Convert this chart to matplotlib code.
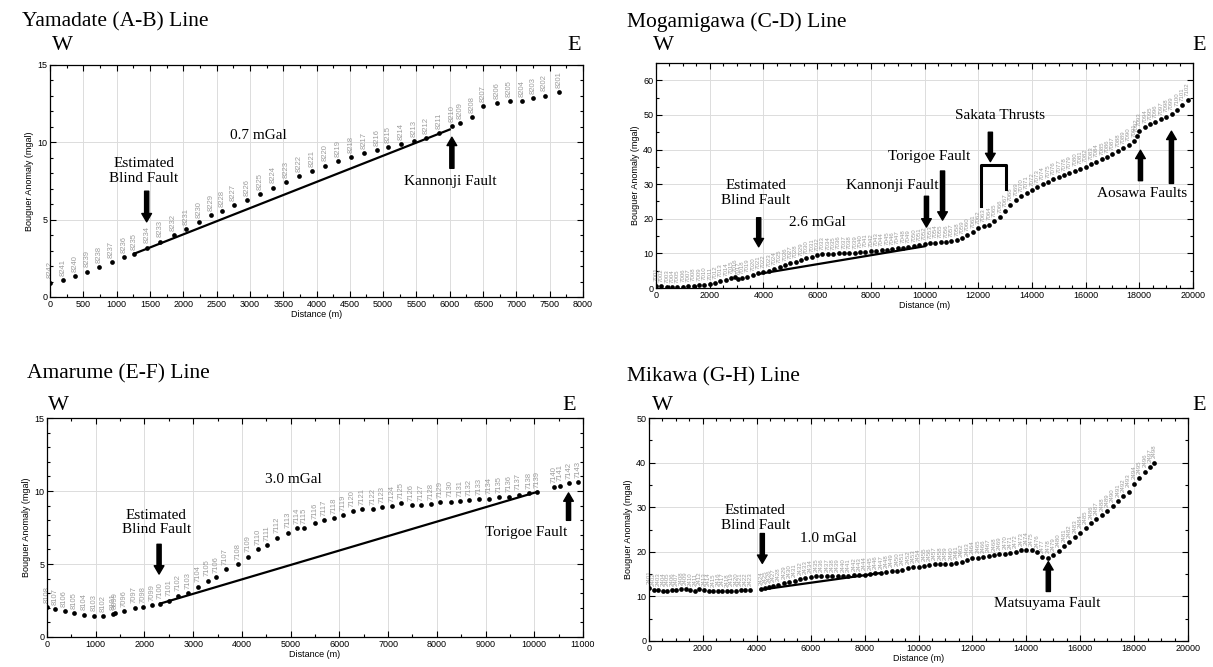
import matplotlib
matplotlib.use('Agg')
import matplotlib.pyplot as plt
from matplotlib.ticker import MultipleLocator

# Figure size in pixels
W, H = 1213, 667

# ---- Yamadate (A-B) line ----
yama_x = [0, 193, 380, 562, 737, 924, 1106, 1264, 1451, 1650, 1855, 2048, 2241, 2422,
          2580, 2756, 2955, 3148, 3347, 3546, 3739, 3932, 4125, 4318, 4517, 4716, 4903,
          5079, 5266, 5459, 5646, 5839, 6032, 6149, 6336, 6506, 6711, 6898, 7091, 7255,
          7424, 7640]
yama_y = [0.93, 1.09, 1.37, 1.64, 1.94, 2.28, 2.58, 2.80, 3.19, 3.58, 3.99, 4.40, 4.86,
          5.31, 5.58, 5.93, 6.27, 6.63, 7.07, 7.43, 7.80, 8.14, 8.50, 8.80, 9.05, 9.28,
          9.48, 9.69, 9.89, 10.08, 10.30, 10.60, 11.03, 11.24, 11.65, 12.35, 12.56,
          12.65, 12.65, 12.86, 13.02, 13.24]
yama_labels = [str(n) for n in range(8242, 8200, -1)]
yama_fit_x = [1264, 6000]
yama_fit_y = [2.80, 10.83]

# ---- Mogamigawa (C-D) line ----
moga_x = [0, 200, 400, 600, 800, 1000, 1200, 1400, 1600, 1800, 2000, 2200, 2400, 2600,
          2800, 2950, 3050, 3200, 3400, 3600, 3800, 4000, 4200, 4400, 4600, 4800, 5000,
          5200, 5400, 5600, 5800, 6000, 6200, 6400, 6600, 6800, 7000, 7200, 7400, 7600,
          7800, 8000, 8200, 8400, 8600, 8800, 9000, 9200, 9400, 9600, 9800, 10000, 10200,
          10400, 10600, 10800, 11000, 11200, 11400, 11600, 11800, 12000, 12200, 12400,
          12600, 12800, 13000, 13200, 13400, 13600, 13800, 14000, 14200, 14400, 14600,
          14800, 15000, 15200, 15400, 15600, 15800, 16000, 16200, 16400, 16600, 16800,
          17000, 17200, 17400, 17600, 17800, 17900, 18000, 18200, 18400, 18600, 18800,
          19000, 19200, 19400, 19600, 19800]
moga_y = [0.7, 0.5, 0.3, 0.3, 0.3, 0.4, 0.5, 0.7, 0.8, 1.0, 1.2, 1.5, 1.9, 2.3, 2.8,
          3.3, 2.5, 2.9, 3.3, 3.8, 4.2, 4.6, 5.0, 5.5, 6.0, 6.6, 7.1, 7.6, 8.1, 8.6, 9.1,
          9.5, 9.7, 9.8, 9.9, 10.0, 10.0, 10.1, 10.2, 10.3, 10.5, 10.6, 10.8, 10.9, 11.1,
          11.3, 11.5, 11.7, 11.9, 12.0, 12.3, 12.6, 13.0, 13.1, 13.2, 13.3, 13.5, 13.9,
          14.4, 15.2, 16.2, 17.3, 17.9, 18.3, 19.3, 20.5, 22.3, 24.0, 25.5, 26.6, 27.5,
          28.3, 29.2, 30.0, 30.7, 31.4, 32.0, 32.6, 33.3, 33.9, 34.5, 35.1, 35.8, 36.5,
          37.2, 37.9, 38.7, 39.5, 40.5, 41.4, 42.5, 44.0, 45.5, 46.5, 47.3, 48.0, 48.8,
          49.5, 50.3, 51.5, 52.8, 54.2]
moga_labels = [str(7001 + i) for i in range(len(moga_x))]
moga_fit_x = [3825, 10000]
moga_fit_y = [4.05, 12.05]

# ---- Amarume (E-F) line ----
ama_x = [0, 168, 361, 561, 762, 962, 1146, 1355, 1390, 1587, 1796, 1980, 2149, 2325,
         2509, 2686, 2886, 3095, 3295, 3472, 3664, 3913, 4129, 4322, 4522, 4723, 4939,
         5132, 5276, 5500, 5685, 5893, 6077, 6270, 6470, 6687, 6879, 7080, 7272, 7481,
         7681, 7873, 8074, 8282, 8483, 8667, 8875, 9076, 9276, 9476, 9677, 9885, 10062,
         10415, 10527, 10719, 10904]
ama_y = [2.04, 1.91, 1.79, 1.61, 1.54, 1.47, 1.43, 1.59, 1.62, 1.79, 2.02, 2.04, 2.16,
         2.29, 2.50, 2.84, 3.02, 3.45, 3.86, 4.13, 4.63, 5.01, 5.51, 6.04, 6.31, 6.81,
         7.15, 7.44, 7.44, 7.78, 7.99, 8.12, 8.37, 8.62, 8.74, 8.78, 8.89, 8.99, 9.17,
         9.05, 9.03, 9.08, 9.26, 9.28, 9.30, 9.35, 9.42, 9.48, 9.58, 9.62, 9.76, 9.87,
         9.94, 10.28, 10.37, 10.53, 10.60]
ama_labels = ['8108', '8107', '8106', '8105', '8104', '8103', '8102', '8101', '8099'] + \
             [str(n) for n in range(7096, 7144)]
ama_fit_x = [2325, 10062]
ama_fit_y = [2.29, 9.94]

# ---- Mikawa (G-H) line ----
mika_x = [0, 170, 340, 510, 680, 850, 1020, 1190, 1360, 1530, 1700, 1870, 2040, 2210,
          2380, 2550, 2720, 2890, 3060, 3230, 3400, 3570, 3750, 4150, 4300, 4450, 4600,
          4800, 5000, 5200, 5400, 5600, 5800, 6000, 6200, 6400, 6600, 6800, 7000, 7200,
          7400, 7600, 7800, 8000, 8200, 8400, 8600, 8800, 9000, 9200, 9400, 9600, 9800,
          10000, 10200, 10400, 10600, 10800, 11000, 11200, 11400, 11600, 11800, 12000,
          12200, 12400, 12600, 12800, 13000, 13200, 13400, 13600, 13800, 14000, 14200,
          14400, 14600, 14800, 15000, 15200, 15400, 15600, 15800, 16000, 16200, 16400,
          16600, 16800, 17000, 17200, 17400, 17600, 17800, 18000, 18200, 18400, 18600,
          18750]
mika_y = [11.8, 11.5, 11.4, 11.3, 11.3, 11.4, 11.5, 11.7, 11.6, 11.4, 11.3, 11.6, 11.4,
          11.3, 11.2, 11.3, 11.3, 11.2, 11.3, 11.3, 11.4, 11.5, 11.5, 11.6, 11.8, 12.0,
          12.3, 12.6, 12.9, 13.2, 13.5, 13.8, 14.2, 14.4, 14.5, 14.5, 14.6, 14.6, 14.6,
          14.6, 14.6, 14.7, 14.8, 14.9, 15.0, 15.2, 15.3, 15.4, 15.6, 15.8, 16.0, 16.3,
          16.5, 16.7, 16.9, 17.1, 17.2, 17.3, 17.3, 17.3, 17.5, 17.8, 18.1, 18.5, 18.7,
          18.8, 19.0, 19.2, 19.4, 19.6, 19.7, 20.0, 20.3, 20.5, 20.3, 19.9, 18.8, 18.7,
          19.3, 20.2, 21.2, 22.2, 23.3, 24.3, 25.4, 26.4, 27.4, 28.3, 29.2, 30.2, 31.3,
          32.4, 33.5, 35.3, 36.6, 38.0, 39.1, 40.0]
mika_labels = [str(2401 + i) for i in range(len(mika_x))]
mika_fit_x = [4150, 8540]
mika_fit_y = [11.5, 15.2]

SERIF = 'Liberation Serif'
SANS = 'Liberation Sans'
GRAY = '#9c9c9c'


def box(l, t, r, b):
    """pixel box -> figure fraction rect"""
    return [l / W, 1 - b / H, (r - l) / W, (b - t) / H]


def ftext(x, y, s, size, ha='left'):
    fig.text(x / W, 1 - y / H, s, fontsize=size, family=SERIF, ha=ha, va='center')


def setup(ax, xmax, xmaj, xmin, ymax, ymaj, ymin):
    ax.set_xlim(0, xmax)
    ax.set_ylim(0, ymax)
    ax.xaxis.set_major_locator(MultipleLocator(xmaj))
    ax.xaxis.set_minor_locator(MultipleLocator(xmin))
    ax.yaxis.set_major_locator(MultipleLocator(ymaj))
    ax.yaxis.set_minor_locator(MultipleLocator(ymin))
    ax.grid(True, which='major', color='#dcdcdc', linewidth=0.7)
    ax.set_axisbelow(True)
    ax.tick_params(which='both', direction='in', top=True, right=True,
                   labelsize=6.5, pad=2, width=0.8)
    ax.tick_params(which='major', length=4)
    ax.tick_params(which='minor', length=2.5)
    for lab in ax.get_xticklabels() + ax.get_yticklabels():
        lab.set_family(SANS)
    for sp in ax.spines.values():
        sp.set_linewidth(0.9)
    ax.set_xlabel('Distance (m)', fontsize=6.5, family=SANS, labelpad=1)
    ax.set_ylabel('Bouguer Anomaly (mgal)', fontsize=6.5, family=SANS, labelpad=2)


def stations(ax, xs, ys, labels, size, off):
    ax.plot(xs, ys, 'o', color='black', markersize=3.4, markeredgewidth=0, zorder=3)
    for x, y, s in zip(xs, ys, labels):
        ax.annotate(s, (x, y), xytext=(0, off), textcoords='offset points',
                    rotation=90, ha='center', va='bottom', fontsize=size,
                    color=GRAY, family=SANS, zorder=2)


def arrow(ax, x, y0, y1):
    ax.annotate('', xy=(x, y1), xytext=(x, y0),
                arrowprops=dict(facecolor='black', edgecolor='black', width=3,
                                headwidth=7, headlength=6, shrink=0))


def note(ax, x, y, s, size=11):
    ax.text(x, y, s, fontsize=size, family=SERIF, ha='center', va='center',
            linespacing=1.15)


fig = plt.figure(figsize=(W / 100, H / 100), dpi=100)

# Panel 1: Yamadate
ax1 = fig.add_axes(box(50, 65, 583, 297))
setup(ax1, 8000, 500, 250, 15, 5, 1)
stations(ax1, yama_x, yama_y, yama_labels, 5.5, 3)
ax1.plot(yama_fit_x, yama_fit_y, color='black', linewidth=1.6, zorder=4)
note(ax1, 3130, 10.44, '0.7 mGal')
note(ax1, 1404, 8.16, 'Estimated\nBlind Fault')
arrow(ax1, 1451, 6.84, 4.86)
note(ax1, 6000, 7.48, 'Kannonji Fault')
arrow(ax1, 6032, 8.32, 10.33)
ftext(22, 22, 'Yamadate (A-B) Line', 15.5)
ftext(62, 46, 'W', 16, 'center')
ftext(574, 46, 'E', 16, 'center')

# Panel 2: Mogamigawa
ax2 = fig.add_axes(box(656, 63, 1193, 288))
setup(ax2, 20000, 2000, 500, 65, 10, 5)
stations(ax2, moga_x, moga_y, moga_labels, 4.4, 3)
ax2.plot(moga_fit_x, moga_fit_y, color='black', linewidth=1.6, zorder=4)
note(ax2, 3723, 27.5, 'Estimated\nBlind Fault')
arrow(ax2, 3825, 20.3, 11.9)
note(ax2, 6015, 19.0, '2.6 mGal')
note(ax2, 8803, 29.7, 'Kannonji Fault')
arrow(ax2, 10073, 26.5, 17.6)
note(ax2, 10190, 38.1, 'Torigoe Fault')
arrow(ax2, 10672, 33.8, 19.6)
note(ax2, 12818, 49.7, 'Sakata Thrusts')
arrow(ax2, 12453, 45.0, 36.5)
ax2.plot([12117, 12117, 13022, 13022], [23.8, 35.5, 35.5, 28.7], color='black',
         linewidth=2.2, zorder=4)
note(ax2, 18102, 27.3, 'Aosawa Faults')
arrow(ax2, 18043, 31.0, 39.8)
arrow(ax2, 19197, 30.2, 45.3)
ftext(627, 22, 'Mogamigawa (C-D) Line', 15.5)
ftext(663, 46, 'W', 16, 'center')
ftext(1199, 46, 'E', 16, 'center')

# Panel 3: Amarume
ax3 = fig.add_axes(box(47, 418, 583, 637))
setup(ax3, 11000, 1000, 500, 15, 5, 1)
stations(ax3, ama_x, ama_y, ama_labels, 5.5, 3)
ax3.plot(ama_fit_x, ama_fit_y, color='black', linewidth=1.6, zorder=4)
note(ax3, 5051, 10.82, '3.0 mGal')
note(ax3, 2245, 7.83, 'Estimated\nBlind Fault')
arrow(ax3, 2300, 6.35, 4.31)
note(ax3, 9840, 7.15, 'Torigoe Fault')
arrow(ax3, 10703, 7.99, 9.87)
ftext(27, 374, 'Amarume (E-F) Line', 15.5)
ftext(58, 406, 'W', 16, 'center')
ftext(569, 406, 'E', 16, 'center')

# Panel 4: Mikawa
ax4 = fig.add_axes(box(649, 418, 1188, 641))
setup(ax4, 20000, 2000, 500, 50, 10, 5)
stations(ax4, mika_x, mika_y, mika_labels, 4.4, 3)
ax4.plot(mika_fit_x, mika_fit_y, color='black', linewidth=1.6, zorder=4)
note(ax4, 3942, 27.6, 'Estimated\nBlind Fault')
arrow(ax4, 4204, 24.1, 17.4)
note(ax4, 6642, 23.0, '1.0 mGal')
note(ax4, 14788, 8.4, 'Matsuyama Fault')
arrow(ax4, 14817, 11.1, 17.8)
ftext(627, 377, 'Mikawa (G-H) Line', 15.5)
ftext(662, 406, 'W', 16, 'center')
ftext(1199, 406, 'E', 16, 'center')

fig.savefig('out.png', dpi=100)
